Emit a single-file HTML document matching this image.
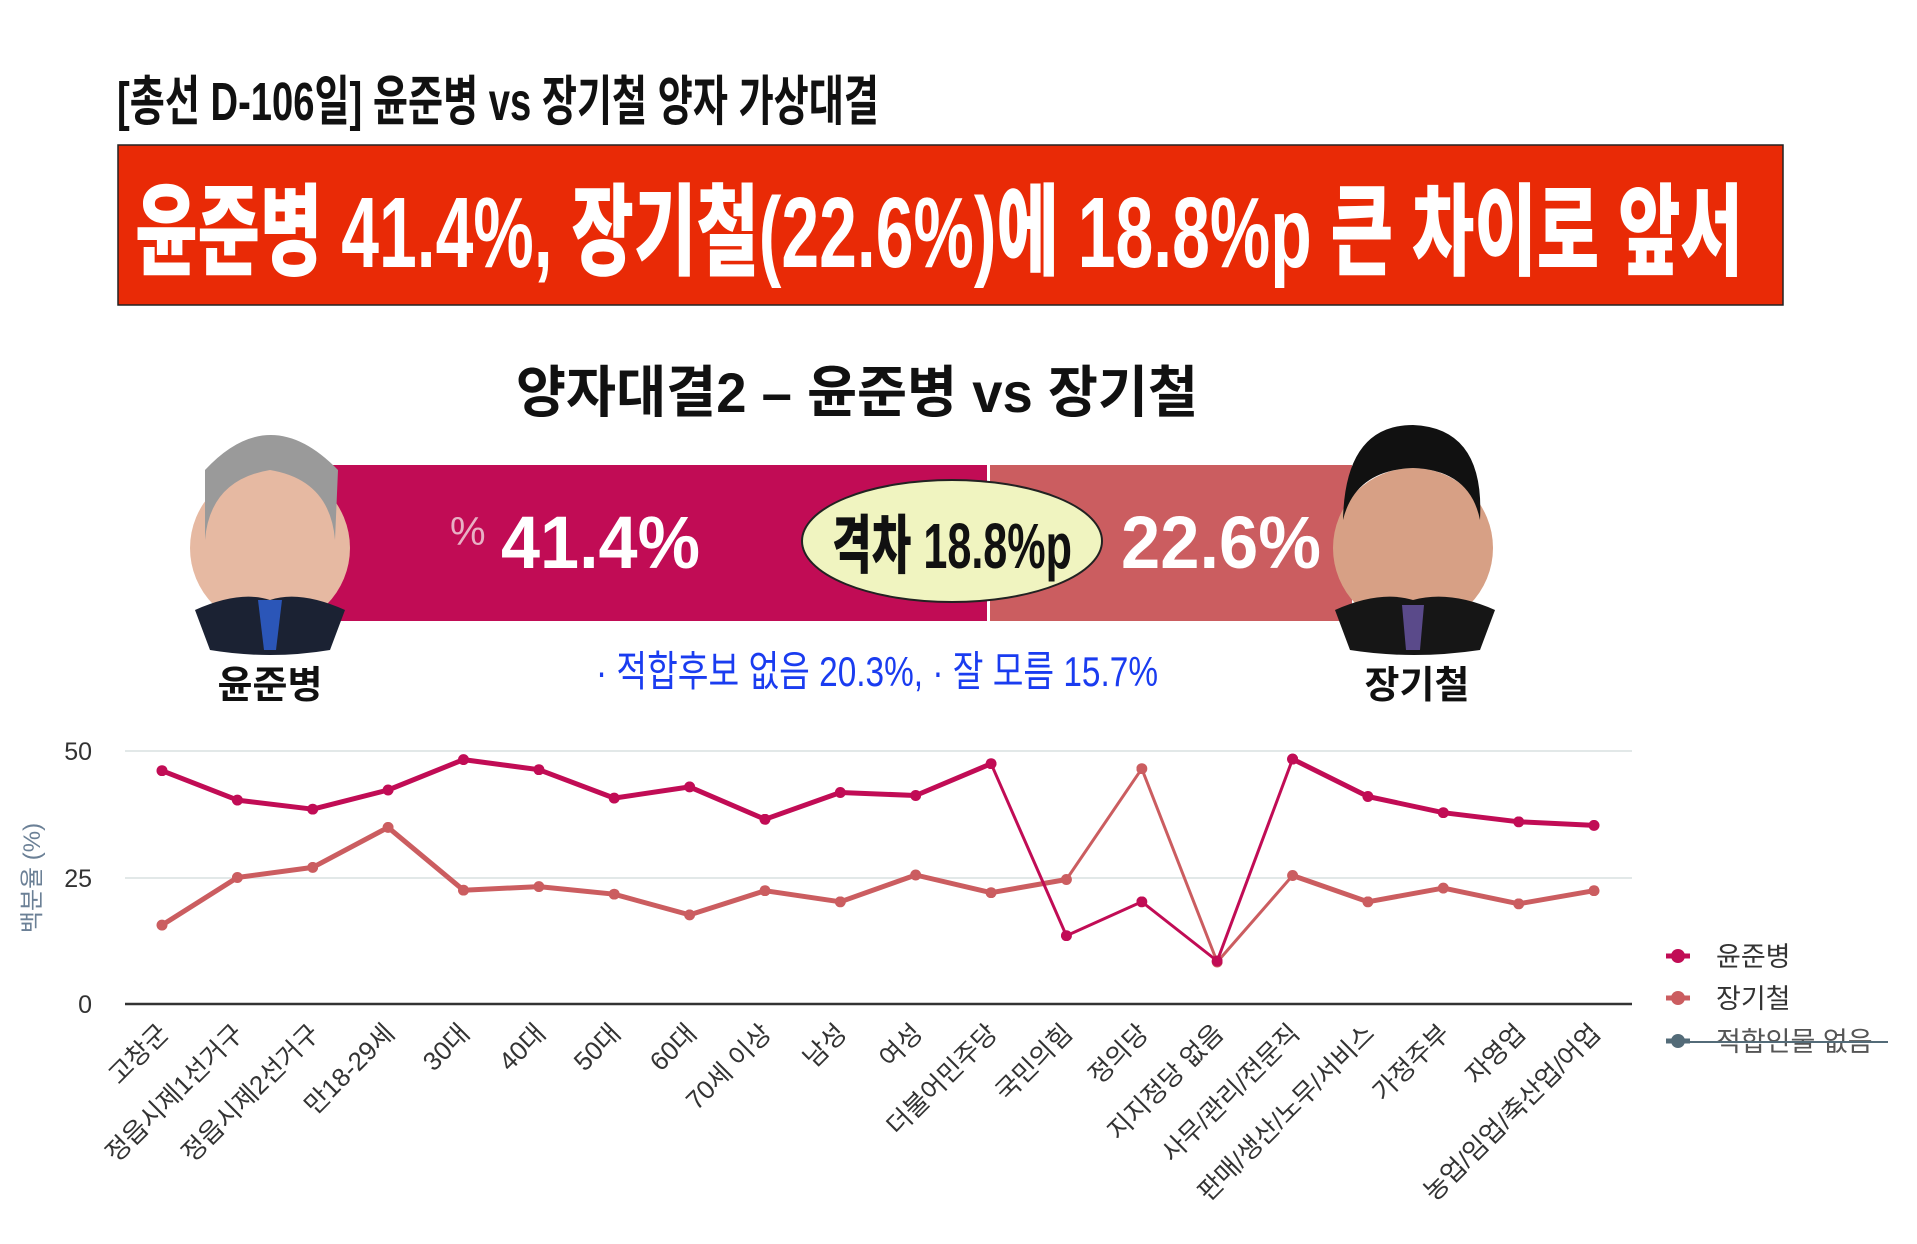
<!DOCTYPE html>
<html><head><meta charset="utf-8"><style>
html,body{margin:0;padding:0;background:#fff}
svg{display:block}
text{font-family:"Liberation Sans","Noto Sans CJK KR",sans-serif}
</style></head><body>
<svg width="1917" height="1244" viewBox="0 0 1917 1244" xmlns="http://www.w3.org/2000/svg">
<defs>
<marker id="ma" viewBox="0 0 10 10" refX="5" refY="5" markerWidth="11" markerHeight="11" markerUnits="userSpaceOnUse"><circle cx="5" cy="5" r="5" fill="#c10c55"/></marker>
<marker id="mb" viewBox="0 0 10 10" refX="5" refY="5" markerWidth="11" markerHeight="11" markerUnits="userSpaceOnUse"><circle cx="5" cy="5" r="5" fill="#cb5d60"/></marker>
</defs>
<text x="117" y="120" font-size="54" font-weight="bold" fill="#111" textLength="762" lengthAdjust="spacingAndGlyphs">[총선 D-106일] 윤준병 vs 장기철 양자 가상대결</text>
<rect x="118" y="145" width="1665" height="160" fill="#e92a06" stroke="#222" stroke-width="1.5"/>
<text x="135" y="267" font-size="100" font-weight="900" fill="#fff" textLength="1608" lengthAdjust="spacingAndGlyphs">윤준병 41.4%, 장기철(22.6%)에 18.8%p 큰 차이로 앞서</text>
<text x="516" y="412" font-size="56" font-weight="bold" fill="#111" textLength="682" lengthAdjust="spacingAndGlyphs">양자대결2 – 윤준병 vs 장기철</text>
<rect x="322" y="465" width="665" height="156" fill="#c10c55"/>
<rect x="990" y="465" width="362" height="156" fill="#cb5d60"/>
<text x="450" y="545" font-size="40" fill="#e8b0c4">%</text>
<text x="501" y="568" font-size="74" font-weight="bold" fill="#fff" textLength="199" lengthAdjust="spacingAndGlyphs">41.4%</text>
<text x="1121" y="568" font-size="74" font-weight="bold" fill="#fff" textLength="200" lengthAdjust="spacingAndGlyphs">22.6%</text>
<ellipse cx="952" cy="541" rx="150" ry="61" fill="#f0f4c0" stroke="#222" stroke-width="2"/>
<text x="832" y="568" font-size="64" font-weight="900" fill="#111" textLength="240" lengthAdjust="spacingAndGlyphs">격차 18.8%p</text>
<g>
<circle cx="270" cy="548" r="80" fill="#e6b9a2"/>
<path d="M205 470 Q270 400 338 470 L335 540 Q330 480 270 470 Q210 480 205 540Z" fill="#9a9a9a"/>
<path d="M195 610 Q240 590 270 600 Q300 590 345 610 L330 650 Q270 660 210 650Z" fill="#1b2233"/>
<path d="M258 600 L282 600 L276 650 L264 650Z" fill="#2b56b8"/>
</g>
<g>
<circle cx="1413" cy="548" r="80" fill="#d7a085"/>
<path d="M1343 520 Q1345 425 1413 425 Q1485 428 1480 520 Q1470 470 1413 468 Q1355 470 1343 520Z" fill="#111"/>
<path d="M1335 610 Q1380 590 1413 600 Q1450 590 1495 610 L1480 650 Q1413 660 1350 650Z" fill="#161616"/>
<path d="M1402 605 L1424 605 L1420 650 L1406 650Z" fill="#5a4a8a"/>
</g>
<text x="596" y="686" font-size="42" fill="#1a3cf0" textLength="562" lengthAdjust="spacingAndGlyphs">· 적합후보 없음 20.3%,  · 잘 모름 15.7%</text>
<text x="270" y="698" font-size="38" font-weight="bold" fill="#111" text-anchor="middle">윤준병</text>
<text x="1417" y="698" font-size="38" font-weight="bold" fill="#111" text-anchor="middle">장기철</text>
<line x1="125" y1="751" x2="1632" y2="751" stroke="#e2e8e8" stroke-width="2"/>
<line x1="125" y1="878" x2="1632" y2="878" stroke="#e2e8e8" stroke-width="2"/>
<line x1="125" y1="1004" x2="1632" y2="1004" stroke="#333" stroke-width="2.5"/>
<g font-size="25" fill="#333" text-anchor="end">
<text x="92" y="760">50</text><text x="92" y="887">25</text><text x="92" y="1013">0</text>
</g>
<text transform="translate(40,878) rotate(-90)" font-size="24" fill="#6b8096" text-anchor="middle">백분율 (%)</text>
<g fill="none" stroke="#cb5d60" stroke-linejoin="round" stroke-linecap="round">
<polyline stroke-width="5" marker-start="url(#mb)" marker-mid="url(#mb)" marker-end="url(#mb)" points="162,925.1 237.4,877.5 312.7,867.4 388.1,827.4 463.5,890.2 538.9,886.6 614.2,894.2 689.6,914.9 765,890.7 840.3,901.8 915.7,875 991.1,892.7 1066.4,879.5"/>
<polyline stroke-width="3" marker-mid="url(#mb)" points="1066.4,879.5 1141.8,768.7 1217.2,962 1292.6,875.5"/>
<polyline stroke-width="5" marker-start="url(#mb)" marker-mid="url(#mb)" marker-end="url(#mb)" points="1292.6,875.5 1367.9,901.8 1443.3,888.1 1518.7,903.8 1594,890.7"/>
</g>
<g fill="none" stroke="#c10c55" stroke-linejoin="round" stroke-linecap="round">
<polyline stroke-width="5" marker-start="url(#ma)" marker-mid="url(#ma)" marker-end="url(#ma)" points="162,770.7 237.4,800.1 312.7,809.2 388.1,790 463.5,759.6 538.9,769.7 614.2,798.1 689.6,786.9 765,819.3 840.3,792.5 915.7,795.5 991.1,763.7"/>
<polyline stroke-width="3" marker-mid="url(#ma)" marker-end="url(#ma)" points="991.1,763.7 1066.4,935.7 1141.8,901.8 1217.2,961 1292.6,759.1"/>
<polyline stroke-width="5" marker-start="url(#ma)" marker-mid="url(#ma)" marker-end="url(#ma)" points="1292.6,759.1 1367.9,796.5 1443.3,812.7 1518.7,821.8 1594,825.4"/>
</g>
<g font-size="26" fill="#333" text-anchor="end">
<text transform="translate(170,1035) rotate(-45)">고창군</text>
<text transform="translate(245,1035) rotate(-45)">정읍시제1선거구</text>
<text transform="translate(321,1035) rotate(-45)">정읍시제2선거구</text>
<text transform="translate(396,1035) rotate(-45)">만18-29세</text>
<text transform="translate(471,1035) rotate(-45)">30대</text>
<text transform="translate(547,1035) rotate(-45)">40대</text>
<text transform="translate(622,1035) rotate(-45)">50대</text>
<text transform="translate(698,1035) rotate(-45)">60대</text>
<text transform="translate(773,1035) rotate(-45)">70세 이상</text>
<text transform="translate(848,1035) rotate(-45)">남성</text>
<text transform="translate(924,1035) rotate(-45)">여성</text>
<text transform="translate(999,1035) rotate(-45)">더불어민주당</text>
<text transform="translate(1074,1035) rotate(-45)">국민의힘</text>
<text transform="translate(1150,1035) rotate(-45)">정의당</text>
<text transform="translate(1225,1035) rotate(-45)">지지정당 없음</text>
<text transform="translate(1301,1035) rotate(-45)">사무/관리/전문직</text>
<text transform="translate(1376,1035) rotate(-45)">판매/생산/노무/서비스</text>
<text transform="translate(1451,1035) rotate(-45)">가정주부</text>
<text transform="translate(1527,1035) rotate(-45)">자영업</text>
<text transform="translate(1602,1035) rotate(-45)">농업/임업/축산업/어업</text>
</g>
<g font-size="27" fill="#333">
<line x1="1666" y1="956" x2="1690" y2="956" stroke="#c10c55" stroke-width="5"/><circle cx="1678" cy="956" r="7" fill="#c10c55"/>
<text x="1716" y="966">윤준병</text>
<line x1="1666" y1="998" x2="1690" y2="998" stroke="#cb5d60" stroke-width="5"/><circle cx="1678" cy="998" r="7" fill="#cb5d60"/>
<text x="1716" y="1008">장기철</text>
<line x1="1666" y1="1041" x2="1690" y2="1041" stroke="#536b78" stroke-width="5"/><circle cx="1678" cy="1041" r="7" fill="#536b78"/>
<text x="1716" y="1051" fill="#555">적합인물 없음</text>
<line x1="1686" y1="1042" x2="1888" y2="1042" stroke="#536b78" stroke-width="2"/>
</g>
</svg>
</body></html>
